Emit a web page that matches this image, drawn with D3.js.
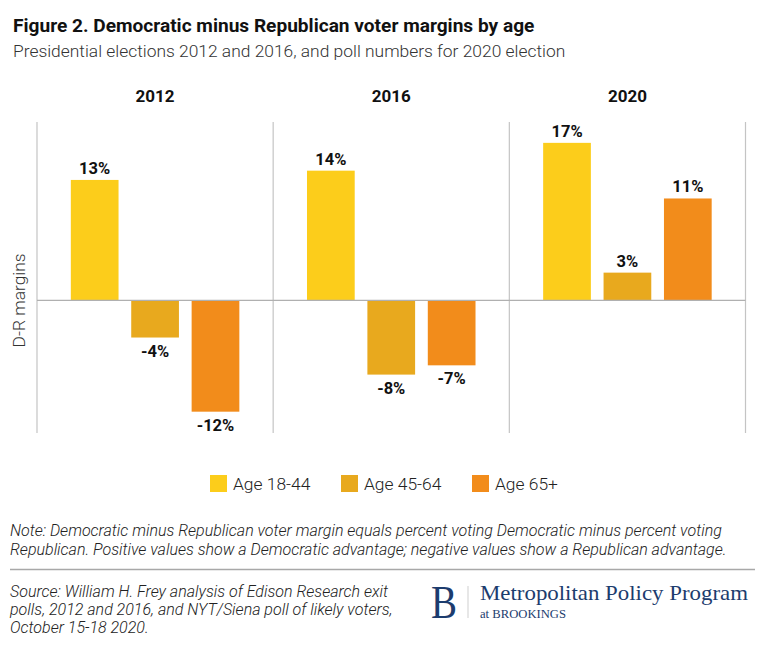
<!DOCTYPE html>
<html>
<head>
<meta charset="utf-8">
<script src="https://cdn.jsdelivr.net/npm/d3@7"></script>
<style>
  body { margin: 0; background: #fff; }
  svg { font-family: Roboto, "Noto Sans", sans-serif; }
</style>
</head>
<body>
<svg id="chart"></svg>
<script>
// data
const years = ['2012', '2016', '2020']
const ageGroups = ['Age 18-44', 'Age 45-64', 'Age 65+']
const margins2012 = [13, -4, -12]
const margins2016 = [14, -8, -7]
const margins2020 = [17, 3, 11]
const groupColors = ['#fccd1b', '#e8a91e', '#f28c1b']

const seriesByYear = [margins2012, margins2016, margins2020]

const width = 768, height = 652
const svg = d3.select('#chart').attr('width', width).attr('height', height)

/* layout */
const plot = { left: 37, right: 745.5, top: 122, bottom: 433 }

const x = d3.scaleBand().domain(years).range([plot.left, plot.right]).padding(0)
const xInner = d3.scaleBand().domain(ageGroups).range([0, x.bandwidth()])
  .paddingInner(0.21).paddingOuter(0.56)
const y = d3.scaleLinear().domain([-14.3, 19.25]).range([plot.bottom, plot.top])
const color = d3.scaleOrdinal().domain(ageGroups).range(groupColors)

// title
svg.append('text').attr('x', 13).attr('y', 31.5)
  .style('font-size', '19.1px').style('font-weight', 700).style('fill', '#111')
  .text('Figure 2. Democratic minus Republican voter margins by age')
svg.append('text').attr('x', 13).attr('y', 57)
  .style('font-size', '17.4px').style('font-weight', 300).style('fill', '#333')
  .text('Presidential elections 2012 and 2016, and poll numbers for 2020 election')

// panel separators
const edges = years.map(d => x(d)).concat([plot.right])
svg.append('g').selectAll('line').data(edges).join('line')
  .attr('x1', d => d).attr('x2', d => d)
  .attr('y1', plot.top).attr('y2', plot.bottom)
  .attr('stroke', '#c4c4c4').attr('stroke-width', 1.2)

// year headers
svg.append('g').selectAll('text').data(years).join('text')
  .attr('x', d => x(d) + x.bandwidth() / 2).attr('y', 102)
  .attr('text-anchor', 'middle')
  .style('font-size', '17px').style('font-weight', 700).style('fill', '#111')
  .text(d => d)

// bars
const panels = svg.append('g').selectAll('g').data(years).join('g')
  .attr('transform', d => `translate(${x(d)},0)`)

panels.each(function (yr, i) {
  const vals = seriesByYear[i].map((v, j) => ({ group: ageGroups[j], value: v }))
  const g = d3.select(this)
  g.selectAll('rect').data(vals).join('rect')
    .attr('x', d => xInner(d.group))
    .attr('width', xInner.bandwidth())
    .attr('y', d => y(Math.max(0, d.value)))
    .attr('height', d => Math.abs(y(d.value) - y(0)))
    .attr('fill', d => color(d.group))
  g.selectAll('text').data(vals).join('text')
    .attr('x', d => xInner(d.group) + xInner.bandwidth() / 2)
    .attr('y', d => d.value >= 0 ? y(d.value) - 6 : y(d.value) + 19)
    .attr('text-anchor', 'middle')
    .style('font-size', '16.5px').style('font-weight', 700).style('fill', '#111')
    .text(d => d.value + '%')
})

// zero line
svg.append('line')
  .attr('x1', plot.left).attr('x2', plot.right)
  .attr('y1', y(0)).attr('y2', y(0))
  .attr('stroke', '#b0b0b0').attr('stroke-width', 1.2)

// y label
svg.append('text')
  .attr('transform', `translate(24.5,${y(0)}) rotate(-90)`)
  .attr('text-anchor', 'middle')
  .style('font-size', '17.4px').style('font-weight', 300).style('fill', '#333')
  .text('D-R margins')

// legend
const legendX = [210, 341, 472]
const legend = svg.append('g').selectAll('g').data(ageGroups).join('g')
  .attr('transform', (d, i) => `translate(${legendX[i]},475)`)
legend.append('rect').attr('width', 17).attr('height', 17).attr('fill', d => color(d))
legend.append('text').attr('x', 23).attr('y', 15)
  .style('font-size', '17.4px').style('font-weight', 300).style('fill', '#222')
  .text(d => d)

// note
const noteLines = [
  'Note: Democratic minus Republican voter margin equals percent voting Democratic minus percent voting',
  'Republican. Positive values show a Democratic advantage; negative values show a Republican advantage.'
]
svg.append('g').selectAll('text').data(noteLines).join('text')
  .attr('x', 10).attr('y', (d, i) => 536 + i * 18.5)
  .style('font-size', '16px').style('font-style', 'italic').style('font-weight', 300).style('fill', '#222')
  .text(d => d)

svg.append('line').attr('x1', 10).attr('x2', 755).attr('y1', 569.5).attr('y2', 569.5)
  .attr('stroke', '#a8a8a8').attr('stroke-width', 1.5)

const sourceLines = [
  'Source: William H. Frey analysis of Edison Research exit',
  'polls, 2012 and 2016, and NYT/Siena poll of likely voters,',
  'October 15-18 2020.'
]
svg.append('g').selectAll('text').data(sourceLines).join('text')
  .attr('x', 10).attr('y', (d, i) => 597 + i * 18)
  .style('font-size', '16px').style('font-style', 'italic').style('font-weight', 300).style('fill', '#222')
  .text(d => d)

// logo
const logo = svg.append('g').style('fill', '#1c3c6e').style('font-family', '"Liberation Serif", "DejaVu Serif", serif')
logo.append('text').attr('x', 431).attr('y', 617.5).style('font-size', '47px')
  .attr('textLength', 26).attr('lengthAdjust', 'spacingAndGlyphs').text('B')
svg.append('line').attr('x1', 468).attr('x2', 468).attr('y1', 586).attr('y2', 618)
  .attr('stroke', '#cfcfcf').attr('stroke-width', 1)
logo.append('text').attr('x', 480).attr('y', 600).style('font-size', '21px')
  .attr('textLength', 268).attr('lengthAdjust', 'spacingAndGlyphs').text('Metropolitan Policy Program')
logo.append('text').attr('x', 480).attr('y', 617.5).style('font-size', '11.5px')
  .attr('textLength', 86).attr('lengthAdjust', 'spacingAndGlyphs').text('at BROOKINGS')
</script>
</body>
</html>
